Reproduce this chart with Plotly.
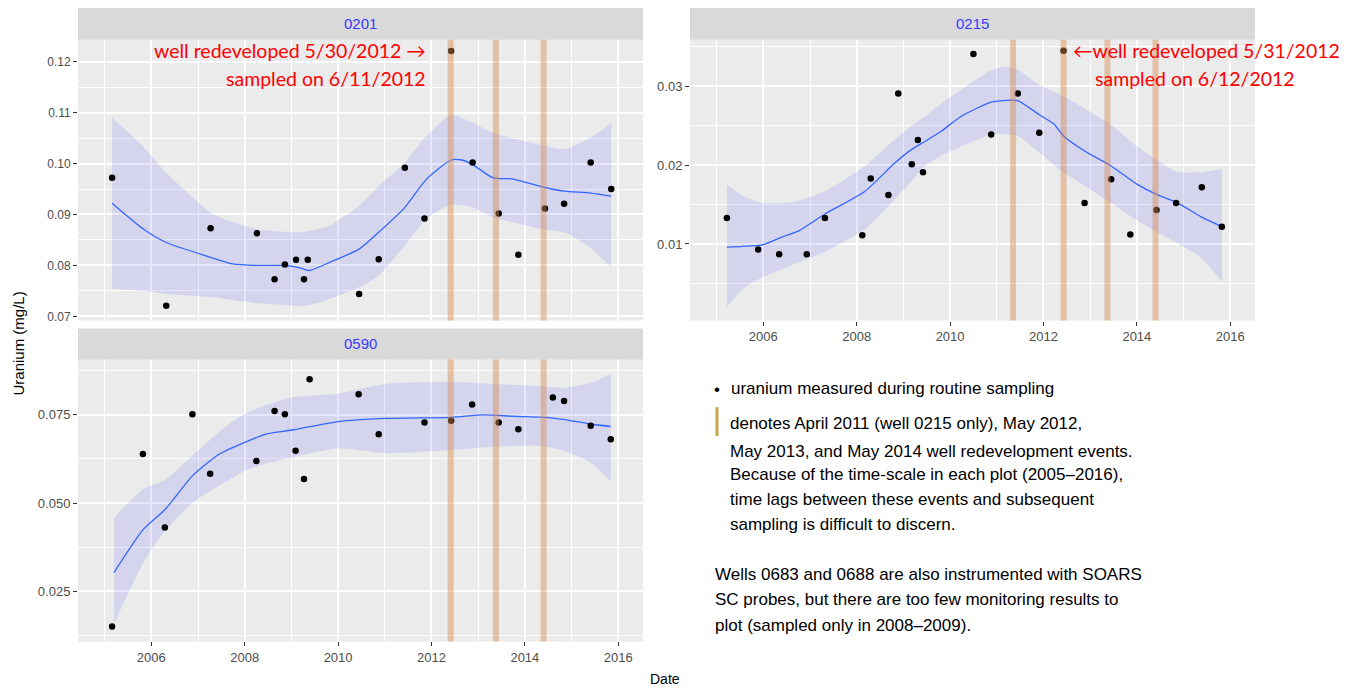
import plotly.graph_objects as go

# ---------------- data (decimal years, mg/L) ----------------
pts_0201_x = [2005.16, 2006.32, 2007.27, 2008.26, 2008.64, 2008.86, 2009.10, 2009.27, 2009.35,
              2010.45, 2010.87, 2011.43, 2011.85, 2012.42, 2012.88, 2013.44, 2013.86, 2014.43,
              2014.84, 2015.41, 2015.85]
pts_0201_y = [0.0972, 0.0721, 0.0873, 0.0863, 0.0773, 0.0802, 0.0811, 0.0773, 0.0811,
              0.0744, 0.0812, 0.0992, 0.0892, 0.1221, 0.1002, 0.0902, 0.0821, 0.0912,
              0.0921, 0.1002, 0.0950]
fit_0201_x = [2005.16, 2005.82, 2006.32, 2007.27, 2007.74, 2008.26, 2008.86, 2009.18, 2009.39,
              2009.82, 2010.45, 2010.87, 2011.43, 2011.89, 2012.42, 2012.65, 2012.88, 2013.32,
              2013.72, 2014.43, 2014.84, 2015.41, 2015.85]
fit_0201_y = [0.0922, 0.0872, 0.0845, 0.0816, 0.0803, 0.0800, 0.0800, 0.0795, 0.0790,
              0.0806, 0.0832, 0.0865, 0.0914, 0.0969, 0.1007, 0.1007, 0.0998, 0.0972,
              0.0970, 0.0953, 0.0946, 0.0942, 0.0936]
fit_0201_hi = [0.1090, 0.1034, 0.0982, 0.0904, 0.0885, 0.0871, 0.0866, 0.0865, 0.0868,
               0.0878, 0.0917, 0.0956, 0.1002, 0.1054, 0.1096, 0.1090, 0.1080, 0.1060,
               0.1050, 0.1035, 0.1028, 0.1051, 0.1079]
fit_0201_lo = [0.0754, 0.0750, 0.0744, 0.0738, 0.0732, 0.0726, 0.0722, 0.0720, 0.0722,
               0.0734, 0.0757, 0.0780, 0.0839, 0.0891, 0.0920, 0.0918, 0.0914, 0.0894,
               0.0885, 0.0870, 0.0865, 0.0834, 0.0796]

pts_0590_x = [2005.16, 2005.82, 2006.29, 2006.88, 2007.26, 2008.25, 2008.64, 2008.86, 2009.09,
              2009.27, 2009.39, 2010.44, 2010.87, 2011.85, 2012.42, 2012.87, 2013.44, 2013.86,
              2014.60, 2014.84, 2015.41, 2015.84]
pts_0590_y = [0.0150, 0.0639, 0.0431, 0.0752, 0.0583, 0.0619, 0.0761, 0.0752, 0.0648,
              0.0568, 0.0851, 0.0808, 0.0695, 0.0728, 0.0733, 0.0779, 0.0728, 0.0709,
              0.0799, 0.0789, 0.0719, 0.0681]
fit_0590_x = [2005.20, 2005.82, 2006.29, 2006.88, 2007.46, 2008.00, 2008.47, 2009.02, 2010.00,
              2011.04, 2012.42, 2013.11, 2013.75, 2014.43, 2014.82, 2015.40, 2015.84]
fit_0590_y = [0.0303, 0.0424, 0.0481, 0.0577, 0.0639, 0.0672, 0.0696, 0.0707, 0.0731,
              0.0740, 0.0743, 0.0750, 0.0746, 0.0743, 0.0737, 0.0724, 0.0717]
fit_0590_hi = [0.0458, 0.0539, 0.0565, 0.0634, 0.0703, 0.0753, 0.0778, 0.0800, 0.0810,
               0.0838, 0.0843, 0.0839, 0.0835, 0.0830, 0.0826, 0.0840, 0.0865]
fit_0590_lo = [0.0158, 0.0329, 0.0420, 0.0501, 0.0550, 0.0591, 0.0612, 0.0629, 0.0655,
               0.0641, 0.0650, 0.0658, 0.0662, 0.0660, 0.0648, 0.0615, 0.0562]

pts_0215_x = [2005.22, 2005.89, 2006.34, 2006.93, 2007.32, 2008.12, 2008.30, 2008.68, 2008.89,
              2009.18, 2009.31, 2009.42, 2010.50, 2010.88, 2011.45, 2011.91, 2012.43, 2012.88,
              2013.45, 2013.86, 2014.42, 2014.84, 2015.39, 2015.82]
pts_0215_y = [0.0133, 0.0093, 0.0087, 0.0087, 0.0133, 0.0111, 0.0183, 0.0162, 0.0291,
              0.0201, 0.0232, 0.0191, 0.0341, 0.0239, 0.0291, 0.0241, 0.0345, 0.0152,
              0.0182, 0.0112, 0.0143, 0.0152, 0.0172, 0.0122]
fit_0215_x = [2005.22, 2005.56, 2005.99, 2006.41, 2006.77, 2007.32, 2008.18, 2008.82, 2009.18,
              2009.46, 2009.81, 2010.24, 2010.88, 2011.16, 2011.45, 2011.91, 2012.23, 2012.43,
              2012.88, 2013.45, 2014.00, 2014.42, 2014.84, 2015.39, 2015.82]
fit_0215_y = [0.0096, 0.0097, 0.0099, 0.0109, 0.0117, 0.0138, 0.0167, 0.0203, 0.0220,
              0.0230, 0.0243, 0.0262, 0.0280, 0.0282, 0.0282, 0.0264, 0.0252, 0.0237,
              0.0218, 0.0199, 0.0176, 0.0163, 0.0153, 0.0134, 0.0122]
fit_0215_hi = [0.0175, 0.0161, 0.0152, 0.0152, 0.0155, 0.0167, 0.0199, 0.0233, 0.0250,
               0.0262, 0.0278, 0.0296, 0.0320, 0.0325, 0.0321, 0.0302, 0.0293, 0.0287,
               0.0272, 0.0251, 0.0224, 0.0207, 0.0192, 0.0191, 0.0195]
fit_0215_lo = [0.0020, 0.0043, 0.0058, 0.0068, 0.0077, 0.0090, 0.0119, 0.0157, 0.0180,
               0.0199, 0.0212, 0.0224, 0.0239, 0.0239, 0.0237, 0.0216, 0.0200, 0.0191,
               0.0174, 0.0152, 0.0130, 0.0115, 0.0102, 0.0082, 0.0052]

events_0201 = [2012.41, 2013.38, 2014.40]
events_0590 = [2012.41, 2013.38, 2014.40]
events_0215 = [2011.35, 2012.43, 2013.37, 2014.40]

x_tickvals = [2006, 2008, 2010, 2012, 2014, 2016]
x_ticktext = ["2006", "2008", "2010", "2012", "2014", "2016"]

# ---------------- layout helpers ----------------
W, H = 1352, 690
def fx(p):
    return p / W
def fy(p):
    return 1 - p / H

FONT = "Liberation Sans, Arial, sans-serif"
RIBBON = "rgba(60,60,255,0.13)"
LINE = "#3366FF"
EVENT = "rgba(214,140,80,0.45)"
XRANGE = [2004.43, 2016.53]

fig = go.Figure()

def add_panel(n, xs, ys, fit_x, fit_y, lo, hi):
    xa = "x" if n == 1 else f"x{n}"
    ya = "y" if n == 1 else f"y{n}"
    fig.add_trace(go.Scatter(x=fit_x, y=lo, mode="lines", line=dict(width=0, shape="spline", smoothing=0.6),
                             xaxis=xa, yaxis=ya, hoverinfo="skip", showlegend=False))
    fig.add_trace(go.Scatter(x=fit_x, y=hi, mode="lines", line=dict(width=0, shape="spline", smoothing=0.6),
                             fill="tonexty", fillcolor=RIBBON, xaxis=xa, yaxis=ya, hoverinfo="skip",
                             showlegend=False))
    fig.add_trace(go.Scatter(x=fit_x, y=fit_y, mode="lines",
                             line=dict(color=LINE, width=1.3, shape="spline", smoothing=0.6),
                             xaxis=xa, yaxis=ya, showlegend=False))
    fig.add_trace(go.Scatter(x=xs, y=ys, mode="markers", marker=dict(color="black", size=6.5),
                             xaxis=xa, yaxis=ya, showlegend=False))

add_panel(1, pts_0201_x, pts_0201_y, fit_0201_x, fit_0201_y, fit_0201_lo, fit_0201_hi)
add_panel(2, pts_0590_x, pts_0590_y, fit_0590_x, fit_0590_y, fit_0590_lo, fit_0590_hi)
add_panel(3, pts_0215_x, pts_0215_y, fit_0215_x, fit_0215_y, fit_0215_lo, fit_0215_hi)

shapes = []
# facet strips
strips = [((78, 643), (8, 40), "0201"), ((78, 643), (330, 361), "0590"), ((690, 1255), (8, 40), "0215")]
annotations = []
for (x0, x1), (y0, y1), lab in strips:
    shapes.append(dict(type="rect", xref="paper", yref="paper", x0=fx(x0), x1=fx(x1),
                       y0=fy(y1), y1=fy(y0), fillcolor="#D9D9D9", line=dict(width=0), layer="above"))
    annotations.append(dict(x=fx((x0 + x1) / 2), y=fy((y0 + y1) / 2), xref="paper", yref="paper",
                            text=lab, showarrow=False, xanchor="center", yanchor="middle",
                            font=dict(family=FONT, size=15, color="#3A3AFF")))

# redevelopment events (semi-transparent bands drawn over the data, as in the original)
for evs, n in [(events_0201, 1), (events_0590, 2), (events_0215, 3)]:
    xa = "x" if n == 1 else f"x{n}"
    ya = "y" if n == 1 else f"y{n}"
    for e in evs:
        shapes.append(dict(type="line", xref=xa, yref=f"{ya} domain", x0=e, x1=e, y0=0, y1=1,
                           line=dict(color=EVENT, width=6), layer="above"))

def xaxis(domain, anchor, labels):
    return dict(domain=domain, anchor=anchor, range=XRANGE, tickvals=x_tickvals, ticktext=x_ticktext,
                showticklabels=labels, ticks="outside" if labels else "", ticklen=4,
                tickcolor="#333333", tickwidth=1, showgrid=True, gridcolor="white", gridwidth=1.6,
                zeroline=False, showline=False,
                tickfont=dict(family=FONT, size=13, color="#4D4D4D"),
                minor=dict(tick0=2005, dtick=2, showgrid=True, gridcolor="white", gridwidth=0.8, ticks=""))

def yaxis(domain, anchor, rng, tick0, dtick, fmt, size):
    return dict(domain=domain, anchor=anchor, range=rng, tick0=tick0, dtick=dtick, tickformat=fmt,
                ticks="outside", ticklen=4, tickcolor="#333333", tickwidth=1,
                showgrid=True, gridcolor="white", gridwidth=1.6, zeroline=False, showline=False,
                tickfont=dict(family=FONT, size=size, color="#4D4D4D"),
                minor=dict(tick0=tick0 + dtick / 2, dtick=dtick, showgrid=True, gridcolor="white",
                           gridwidth=0.8, ticks=""))

fig.update_layout(
    xaxis=xaxis([fx(78), fx(643)], "y", False),
    yaxis=yaxis([fy(322), fy(40)], "x", [0.06916, 0.1243], 0.07, 0.01, ".2f", 12),
    xaxis2=xaxis([fx(78), fx(643)], "y2", True),
    yaxis2=yaxis([fy(644.3), fy(361)], "x2", [0.01077, 0.0907], 0.0, 0.025, ".3f", 13),
    xaxis3=xaxis([fx(690), fx(1255)], "y3", True),
    yaxis3=yaxis([fy(322), fy(40)], "x3", [0.00028, 0.0359], 0.0, 0.01, ".2f", 13),
)

# axis titles
annotations.append(dict(x=fx(18), y=fy(345), xref="paper", yref="paper", text="Uranium (mg/L)",
                        textangle=-90, showarrow=False, xanchor="center", yanchor="middle",
                        font=dict(family=FONT, size=15, color="black")))
annotations.append(dict(x=fx(665), y=fy(682), xref="paper", yref="paper", text="Date",
                        showarrow=False, xanchor="center", yanchor="middle",
                        font=dict(family=FONT, size=14, color="black")))

# red call-outs
RED = dict(family="Lato, Open Sans, sans-serif", size=19.5, color="#FF0000")
annotations += [
    dict(x=fx(428), y=fy(51), xref="paper", yref="paper", text="well redeveloped 5/30/2012 \u2192",
         showarrow=False, xanchor="right", yanchor="middle", font=RED),
    dict(x=fx(428), y=fy(79), xref="paper", yref="paper", text="sampled on 6/11/2012",
         showarrow=False, xanchor="right", yanchor="middle", font=RED),
    dict(x=fx(1071), y=fy(51), xref="paper", yref="paper", text="\u2190well redeveloped 5/31/2012",
         showarrow=False, xanchor="left", yanchor="middle", font=RED),
    dict(x=fx(1093), y=fy(79), xref="paper", yref="paper", text="sampled on 6/12/2012",
         showarrow=False, xanchor="left", yanchor="middle", font=RED),
]

# explanatory key text
KEY = dict(family="Liberation Sans, Arial, sans-serif", size=17, color="black")
annotations.append(dict(x=fx(717), y=fy(391), xref="paper", yref="paper", text="\u2022",
                        showarrow=False, xanchor="center", yanchor="middle", font=KEY))
key_lines = [
    (729, 390, "uranium measured during routine sampling"),
    (728, 425, "denotes April 2011 (well 0215 only), May 2012,"),
    (728, 453, "May 2013, and May 2014 well redevelopment events."),
    (728, 477, "Because of the time-scale in each plot (2005\u20132016),"),
    (728, 502, "time lags between these events and subsequent"),
    (728, 527, "sampling is difficult to discern."),
    (713, 577, "Wells 0683 and 0688 are also instrumented with SOARS"),
    (713, 602, "SC probes, but there are too few monitoring results to"),
    (713, 628, "plot (sampled only in 2008\u20132009)."),
]
for x, y, t in key_lines:
    annotations.append(dict(x=fx(x), y=fy(y), xref="paper", yref="paper", text=t, showarrow=False,
                            xanchor="left", yanchor="middle", font=KEY))
shapes.append(dict(type="line", xref="paper", yref="paper", x0=fx(717), x1=fx(717), y0=fy(438), y1=fy(409),
                   line=dict(color="#C9A24A", width=3), layer="above"))

fig.update_layout(
    width=W, height=H, autosize=False,
    margin=dict(l=0, r=0, t=0, b=0),
    paper_bgcolor="white", plot_bgcolor="#EBEBEB",
    shapes=shapes, annotations=annotations, showlegend=False,
    font=dict(family=FONT),
)

fig.write_html("out.html", config={"displayModeBar": False},
               post_script="document.body.style.margin='0';")
